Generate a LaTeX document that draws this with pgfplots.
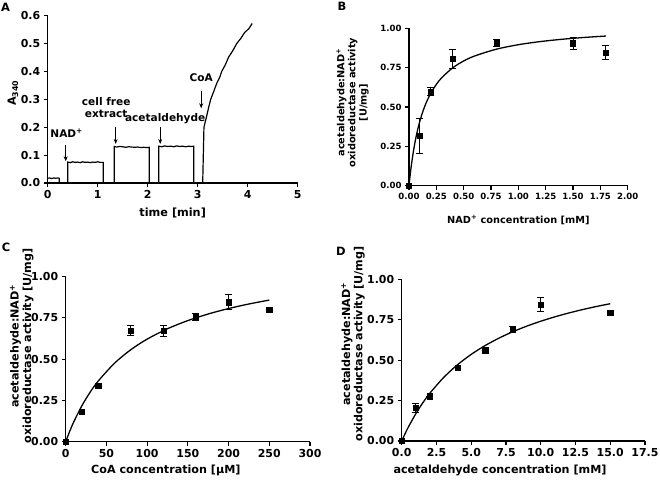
\documentclass[border=0pt]{standalone}
\usepackage{fontspec}
\setmainfont{DejaVu Sans}[BoldFont={DejaVu Sans Bold}]
\usepackage{pgfplots}
\pgfplotsset{compat=1.18}
\usetikzlibrary{arrows.meta}

\pgfplotsset{
 gp/.style={
  scale only axis,
  axis lines=left,
  axis line style={-, line width=1.3pt},
  every tick/.style={black, line width=1.1pt},
  tick align=outside,
  major tick length=4bp,
  tick label style={font=\bfseries\fontsize{11}{12}\selectfont},
  label style={font=\bfseries\fontsize{11.3}{13}\selectfont},
  /pgf/number format/assume math mode=true,
  clip=false,
  xmin=0, ymin=0,
 },
 pts/.style={only marks, mark=square*, mark size=2.6bp, black,
  error bars/.cd, y dir=both, y explicit,
  error bar style={line width=0.9pt, black},
  error mark options={rotate=90, mark size=3.5bp, line width=0.9pt, black}},
 fit/.style={no marks, black, line width=1.3pt, smooth},
}

\begin{document}
\begin{tikzpicture}
\useasboundingbox (0bp,0bp) rectangle (660bp,482bp);

% panel letters
\node[font=\bfseries\fontsize{11.5}{12}\selectfont] at (5.5bp,475bp) {A};
\node[font=\bfseries\fontsize{11.5}{12}\selectfont] at (342bp,476bp) {B};
\node[font=\bfseries\fontsize{11.5}{12}\selectfont] at (6bp,234.5bp) {C};
\node[font=\bfseries\fontsize{11.5}{12}\selectfont] at (341bp,231bp) {D};

% ---------------- A ----------------
\begin{axis}[gp, at={(47.7bp,299bp)}, anchor=south west, width=250bp, height=167.3bp,
  xmax=5, ymax=0.6,
  xtick={0,1,2,3,4,5}, ytick={0,0.1,0.2,0.3,0.4,0.5,0.6},
  yticklabel style={/pgf/number format/.cd, fixed, fixed zerofill, precision=1},
  xlabel={time [min]}, ylabel={A\textsubscript{340}},
  xlabel style={at={(axis description cs:0.5,-0.179)}, anchor=center},
  ylabel style={at={(axis description cs:-0.139,0.538)}, anchor=center},
]
\addplot[black, line width=1.2pt, sharp plot] coordinates {
(0,0.017)(0.04,0.018)(0.08,0.016)(0.12,0.018)(0.16,0.017)(0.2,0.018)(0.23,0.017)(0.232,0)
(0.40,0)(0.402,0.075)(0.45,0.073)(0.5,0.076)(0.55,0.074)(0.6,0.075)(0.65,0.073)(0.7,0.076)
(0.75,0.074)(0.8,0.075)(0.85,0.073)(0.9,0.075)(0.95,0.074)(1.0,0.076)(1.05,0.074)(1.11,0.074)(1.112,0)
(1.33,0)(1.332,0.131)(1.38,0.129)(1.44,0.131)(1.5,0.130)(1.56,0.128)(1.62,0.130)(1.68,0.129)
(1.74,0.128)(1.8,0.129)(1.86,0.127)(1.92,0.128)(1.98,0.127)(2.03,0.128)(2.032,0)
(2.22,0)(2.222,0.132)(2.28,0.130)(2.34,0.133)(2.4,0.131)(2.46,0.132)(2.52,0.130)(2.58,0.133)
(2.64,0.131)(2.7,0.132)(2.76,0.130)(2.82,0.132)(2.88,0.131)(2.92,0.132)(2.922,0)
(3.10,0)(3.125,0.2)(3.18,0.24)(3.22,0.272)(3.26,0.30)(3.32,0.328)(3.38,0.357)(3.44,0.379)
(3.48,0.40)(3.55,0.423)(3.62,0.452)(3.70,0.474)(3.78,0.50)(3.86,0.518)(3.94,0.540)(4.02,0.553)(4.09,0.572)
};
\draw[-{Stealth[length=5bp,width=4bp]}, line width=0.7pt] (axis cs:0.36,0.138) -- (axis cs:0.36,0.078);
\draw[-{Stealth[length=5bp,width=4bp]}, line width=0.7pt] (axis cs:1.36,0.200) -- (axis cs:1.36,0.140);
\draw[-{Stealth[length=5bp,width=4bp]}, line width=0.7pt] (axis cs:2.25,0.200) -- (axis cs:2.25,0.140);
\draw[-{Stealth[length=5bp,width=4bp]}, line width=0.7pt] (axis cs:3.07,0.330) -- (axis cs:3.07,0.268);
\node[font=\bfseries\fontsize{10.6}{12}\selectfont] at (axis cs:0.38,0.178) {NAD\textsuperscript{+}};
\node[font=\bfseries\fontsize{10.6}{12}\selectfont, align=center] at (axis cs:1.17,0.272) {cell free\\extract};
\node[font=\bfseries\fontsize{10.6}{12}\selectfont] at (axis cs:2.35,0.232) {acetaldehyde};
\node[font=\bfseries\fontsize{10.6}{12}\selectfont] at (axis cs:3.07,0.378) {CoA};
\end{axis}

% ---------------- B ----------------
\begin{axis}[gp, at={(409bp,296.3bp)}, anchor=south west, width=218.7bp, height=157.4bp,
  xmax=2, ymax=1,
  xtick={0,0.25,...,2.0}, ytick={0,0.25,0.5,0.75,1},
  tick label style={font=\bfseries\fontsize{8.6}{10}\selectfont},
  label style={font=\bfseries\fontsize{9.8}{11.2}\selectfont},
  xticklabel style={/pgf/number format/.cd, fixed, fixed zerofill, precision=2},
  yticklabel style={/pgf/number format/.cd, fixed, fixed zerofill, precision=2},
  xlabel={NAD\textsuperscript{+} concentration [mM]},
  ylabel={acetaldehyde:NAD\textsuperscript{+}\\oxidoreductase activity\\{[U/mg]}},
  xlabel style={at={(axis description cs:0.5,-0.218)}, anchor=center},
  ylabel style={at={(axis description cs:-0.258,0.529)}, anchor=center, align=center},
]
\addplot[fit] coordinates {
(0,0)(0.01,0.0644)(0.02,0.1212)(0.04,0.2168)(0.06,0.2943)(0.08,0.3583)(0.10,0.412)(0.13,0.4782)
(0.16,0.5316)(0.20,0.5886)(0.25,0.6438)(0.30,0.6867)(0.40,0.7491)(0.50,0.7923)(0.60,0.824)
(0.80,0.8674)(1.00,0.8957)(1.20,0.9156)(1.40,0.9303)(1.60,0.9417)(1.80,0.9508)};
\addplot[pts] coordinates {
(0,0) +- (0,0)
(0.1,0.316) +- (0,0.112)
(0.2,0.598) +- (0,0.024)
(0.4,0.808) +- (0,0.060)
(0.8,0.907) +- (0,0.020)
(1.5,0.905) +- (0,0.038)
(1.8,0.847) +- (0,0.047)};
\end{axis}

% ---------------- C ----------------
\begin{axis}[gp, at={(65.7bp,40.3bp)}, anchor=south west, width=244.3bp, height=165bp,
  xmax=300, ymax=1,
  xtick={0,50,...,300}, ytick={0,0.25,0.5,0.75,1},
  yticklabel style={/pgf/number format/.cd, fixed, fixed zerofill, precision=2},
  xlabel={CoA concentration [µM]},
  ylabel={acetaldehyde:NAD\textsuperscript{+}\\oxidoreductase activity [U/mg]},
  label style={font=\bfseries\fontsize{11.2}{12.5}\selectfont},
  xlabel style={at={(axis description cs:0.41,-0.172)}, anchor=center},
  ylabel style={at={(axis description cs:-0.18,0.58)}, anchor=center, align=center},
]
\addplot[fit] coordinates {
(0,0)(5,0.0639)(10,0.1211)(20,0.219)(30,0.30)(40,0.368)(60,0.4759)(80,0.5576)(100,0.6216)
(125,0.6845)(150,0.734)(175,0.774)(200,0.807)(225,0.8347)(250,0.8582)};
\addplot[pts] coordinates {
(0,0) +- (0,0)
(20,0.18) +- (0,0)
(40,0.338) +- (0,0)
(80,0.673) +- (0,0.030)
(120,0.672) +- (0,0.035)
(160,0.757) +- (0,0.020)
(200,0.845) +- (0,0.045)
(250,0.80) +- (0,0)};
\end{axis}

% ---------------- D ----------------
\begin{axis}[gp, at={(401.7bp,41bp)}, anchor=south west, width=243.3bp, height=161.7bp,
  xmax=17.5, ymax=1,
  xtick={0,2.5,...,17.5}, ytick={0,0.25,0.5,0.75,1},
  xticklabel style={/pgf/number format/.cd, fixed, fixed zerofill, precision=1},
  yticklabel style={/pgf/number format/.cd, fixed, fixed zerofill, precision=2},
  xlabel={acetaldehyde concentration [mM]},
  ylabel={acetaldehyde:NAD\textsuperscript{+}\\oxidoreductase activity [U/mg]},
  label style={font=\bfseries\fontsize{11.2}{12.5}\selectfont},
  xlabel style={at={(axis description cs:0.404,-0.18)}, anchor=center},
  ylabel style={at={(axis description cs:-0.2,0.6)}, anchor=center, align=center},
]
\addplot[fit] coordinates {
(0,0)(0.25,0.0465)(0.5,0.0896)(1,0.1667)(1.5,0.2338)(2,0.2927)(3,0.3913)(4,0.4706)(5,0.5357)
(6,0.5902)(7,0.6364)(8,0.6761)(9,0.7105)(10,0.7407)(11,0.7674)(12,0.7912)(13,0.8125)(14,0.8317)(15,0.8491)};
\addplot[pts] coordinates {
(0,0) +- (0,0)
(1,0.205) +- (0,0.030)
(2,0.277) +- (0,0)
(4,0.452) +- (0,0)
(6,0.562) +- (0,0)
(8,0.690) +- (0,0.020)
(10,0.845) +- (0,0.045)
(15,0.794) +- (0,0)};
\end{axis}
\end{tikzpicture}
\end{document}
